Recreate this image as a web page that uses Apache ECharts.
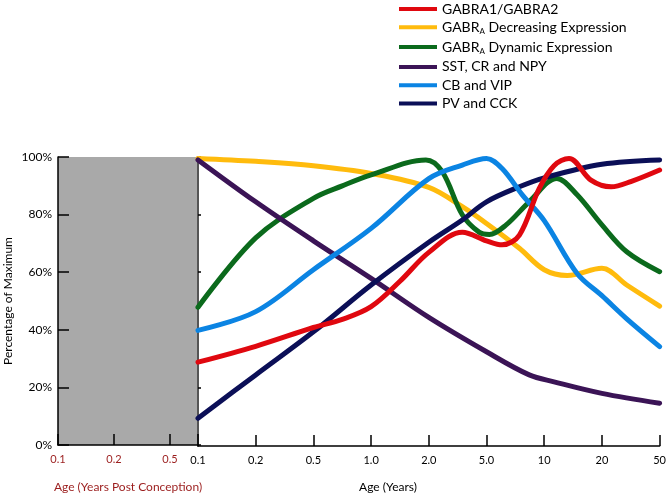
<!DOCTYPE html>
<html>
<head>
<meta charset="utf-8">
<script src="https://cdn.jsdelivr.net/npm/echarts@6/dist/echarts.min.js"></script>
<style>
html,body{margin:0;padding:0;background:#fff;}
#chart{width:669px;height:498px;}
</style>
</head>
<body>
<div id="chart"></div>
<script>
// ---- data ----
const ageLabels = ['0.1', '0.2', '0.5', '1.0', '2.0', '5.0', '10', '20', '50']; // postnatal ticks (index positions 0..8)
const prenatalLabels = ['0.1', '0.2', '0.5']; // prenatal ticks (index positions 0..2)
const seriesNames = ['GABRA1/GABRA2', 'GABR_A Decreasing Expression', 'GABR_A Dynamic Expression', 'SST, CR and NPY', 'CB and VIP', 'PV and CCK'];
const seriesColors = ['#e0080f', '#ffbb0d', '#0b6a1c', '#3b1456', '#0b84e3', '#0b0f57'];

// [axis position index, percentage of maximum]
const gabra1 = [[0,29],[1,34.5],[2,41],[2.5,43.8],[3,48.2],[3.5,57],[4,67],[4.58,74],[5,71],[5.27,69.6],[5.57,73],[5.91,89],[6.17,97],[6.43,99.5],[6.81,92],[7.16,89.7],[7.5,91.5],[8,95.5]];
const gabraDecreasing = [[0,99.5],[1,98.5],[2,97],[3,94.3],[4,89.5],[4.58,82.8],[5,77],[5.57,68.4],[6,61],[6.4,59],[7,61.5],[7.43,55.7],[8,48.4]];
const gabraDynamic = [[0,48],[1,72],[2,85.7],[2.5,90],[3,93.8],[3.95,99],[4.23,95],[4.58,80],[4.87,74],[5.05,73.2],[5.34,76.5],[5.74,84.5],[6.22,92.6],[6.57,86.9],[7,76.5],[7.43,67.2],[8,60.3]];
const sstCrNpy = [[0,99],[1,84.5],[2,71],[3,58],[4,44.5],[5,32.6],[5.74,24.6],[6.17,22.2],[7,18.2],[8,14.8]];
const cbVip = [[0,40],[1,46.5],[2,61],[3,75.3],[4,92.5],[4.58,97.2],[5,99.5],[5.27,96],[5.62,86.9],[6,78],[6.57,59.7],[7,52],[7.43,44],[8,34.4]];
const pvCck = [[0,9.6],[1,24.6],[2,39.5],[3,55.7],[4,70.5],[4.58,78.2],[5,84.5],[5.57,89.7],[6,92.8],[7,97.5],[8,99]];
const seriesData = [gabra1, gabraDecreasing, gabraDynamic, sstCrNpy, cbVip, pvCck];
const drawOrder = [1, 2, 3, 5, 4, 0];

const FONT = 'Lato';
const RED_TXT = '#9b1d1d';

const chart = echarts.init(document.getElementById('chart'), null, {renderer: 'canvas'});

const series = drawOrder.map(i => ({
  name: seriesNames[i],
  type: 'line',
  xAxisIndex: 1,
  yAxisIndex: 1,
  data: seriesData[i],
  smooth: 0.35,
  showSymbol: false,
  symbol: 'none',
  color: seriesColors[i],
  lineStyle: {width: 5, color: seriesColors[i], cap: 'round'},
  emphasis: {disabled: true},
  silent: true
}));

const option = {
  animation: false,
  backgroundColor: '#ffffff',
  textStyle: {fontFamily: FONT},
  legend: {
    orient: 'vertical',
    left: 399,
    top: 2,
    padding: 0,
    itemGap: 4.3,
    itemWidth: 38,
    itemHeight: 4,
    icon: 'rect',
    data: seriesNames.map((n, i) => ({name: n, itemStyle: {color: seriesColors[i]}})),
    formatter: function (name) {
      if (name.indexOf('GABR_A') === 0) {
        return '{t|GABR}{sub|A}{t|' + name.slice(6) + '}';
      }
      return '{t|' + name + '}';
    },
    textStyle: {
      fontFamily: FONT,
      color: '#000',
      rich: {
        t: {fontSize: 14, lineHeight: 17, fontFamily: FONT, color: '#000'},
        sub: {fontSize: 8, verticalAlign: 'bottom', fontFamily: FONT, color: '#000'}
      }
    },
    selectedMode: false
  },
  grid: [
    {left: 58, top: 157, width: 140, height: 289, show: true, backgroundColor: '#a9a9a9', borderWidth: 0},
    {left: 198, top: 157, width: 463, height: 289, show: false}
  ],
  xAxis: [
    {
      gridIndex: 0, type: 'value', min: 0, max: 2.5, interval: 1,
      splitLine: {show: false},
      axisLine: {show: true, lineStyle: {color: '#000', width: 1.5}},
      axisTick: {show: true, inside: true, length: 11, lineStyle: {color: '#000', width: 1.5}},
      axisLabel: {
        color: RED_TXT, fontSize: 11, fontFamily: FONT, margin: 9,
        formatter: v => (Number.isInteger(v) && prenatalLabels[v] !== undefined) ? prenatalLabels[v] : ''
      },
      name: 'Age (Years Post Conception)', nameLocation: 'middle', nameGap: 36,
      nameTextStyle: {color: RED_TXT, fontSize: 12, fontFamily: FONT}
    },
    {
      gridIndex: 1, type: 'value', min: 0, max: 8, interval: 1,
      splitLine: {show: false},
      axisLine: {show: true, lineStyle: {color: '#000', width: 1.5}},
      axisTick: {show: true, inside: true, length: 11, lineStyle: {color: '#000', width: 1.5}},
      axisLabel: {
        color: '#000', fontSize: 11, fontFamily: FONT, margin: 9,
        formatter: v => (Number.isInteger(v) && ageLabels[v] !== undefined) ? ageLabels[v] : ''
      }
    }
  ],
  yAxis: [
    {
      gridIndex: 0, type: 'value', min: 0, max: 100, interval: 20,
      splitLine: {show: false},
      axisLine: {show: true, lineStyle: {color: '#000', width: 1.5}},
      axisTick: {show: true, inside: true, length: 11, lineStyle: {color: '#000', width: 1.5}},
      axisLabel: {color: '#000', fontSize: 12, fontFamily: FONT, margin: 6, formatter: '{value}%'}
    },
    {
      gridIndex: 1, type: 'value', min: 0, max: 100, interval: 20,
      splitLine: {show: false},
      axisLine: {show: true, lineStyle: {color: '#555', width: 2}},
      axisTick: {show: false},
      axisLabel: {show: false}
    },
    {
      gridIndex: 0, type: 'value', min: 0, max: 100, interval: 20,
      splitLine: {show: false},
      axisLine: {show: false},
      axisTick: {show: true, inside: false, length: 3, lineStyle: {color: '#000', width: 1.5}},
      axisLabel: {show: false}
    }
  ],
  graphic: [
    {
      type: 'text', x: 8, y: 301, rotation: Math.PI / 2,
      style: {text: 'Percentage of Maximum', fontSize: 12, fontFamily: FONT, fill: '#000', textAlign: 'center', textVerticalAlign: 'middle'}
    },
    {
      type: 'text', x: 388, y: 487,
      style: {text: 'Age (Years)', fontSize: 12, fontFamily: FONT, fill: '#000', textAlign: 'center', textVerticalAlign: 'middle'}
    }
  ],
  series: series
};

chart.setOption(option);
</script>
</body>
</html>
